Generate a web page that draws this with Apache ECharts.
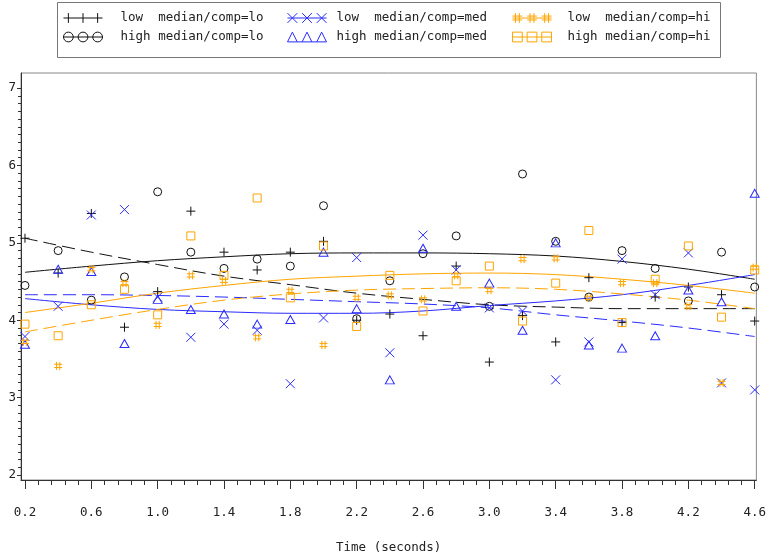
<!DOCTYPE html>
<html><head><meta charset="utf-8">
<script src="https://cdn.jsdelivr.net/npm/echarts@6/dist/echarts.min.js"></script>
<style>html,body{margin:0;padding:0;background:#fff}#c{width:769px;height:559px}</style>
</head><body><div id="c"></div>
<script>
// ---- data ----
const times = [0.2,0.4,0.6,0.8,1.0,1.2,1.4,1.6,1.8,2.0,2.2,2.4,2.6,2.8,3.0,3.2,3.4,3.6,3.8,4.0,4.2,4.4,4.6];
const lowLo   = [5.06,4.61,5.38,3.91,4.37,5.41,4.88,4.65,4.88,5.02,4.00,4.08,3.80,4.70,3.46,4.06,3.72,4.55,3.97,4.30,4.43,4.33,3.99];
const highLo  = [4.45,4.90,4.26,4.56,5.66,4.88,4.67,4.79,4.70,5.48,4.02,4.51,4.86,5.09,4.18,5.89,5.02,4.30,4.90,4.67,4.25,4.88,4.43];
const lowMed  = [3.79,4.18,5.36,5.43,4.30,3.78,3.95,3.87,3.18,4.03,4.81,3.58,5.10,4.65,4.16,4.12,3.23,3.72,4.79,4.33,4.87,3.19,3.10];
const highMed = [3.69,4.66,4.63,3.70,4.27,4.14,4.08,3.95,4.01,4.88,4.15,3.23,4.93,4.18,4.48,3.87,5.00,3.68,3.64,3.80,4.39,4.24,5.64];
const lowHi   = [3.72,3.41,4.66,4.48,3.94,4.58,4.51,3.78,4.38,3.68,4.29,4.32,4.27,4.58,4.39,4.79,4.80,4.29,4.48,4.48,4.18,3.19,4.68];
const highHi  = [3.95,3.80,4.20,4.40,4.07,5.09,4.58,5.58,4.29,4.96,3.92,4.58,4.12,4.51,4.70,3.99,4.48,5.16,3.97,4.53,4.96,4.04,4.65];

// fitted curves
const fitTimes   = [0.2,0.6,1.0,1.4,1.8,2.2,2.6,3.0,3.4,3.8,4.2,4.6];
const fitLowLo   = [5.06,4.88,4.72,4.57,4.46,4.35,4.27,4.20,4.17,4.15,4.15,4.15];
const fitHighLo  = [4.62,4.70,4.77,4.82,4.86,4.87,4.87,4.86,4.83,4.76,4.66,4.53];
const fitLowMed  = [4.33,4.33,4.32,4.30,4.27,4.24,4.21,4.16,4.07,3.99,3.90,3.79];
const fitHighMed = [4.28,4.20,4.14,4.11,4.09,4.09,4.12,4.19,4.25,4.33,4.45,4.59];
const fitLowHi   = [3.85,4.00,4.14,4.26,4.34,4.39,4.41,4.42,4.40,4.34,4.26,4.15];
const fitHighHi  = [4.10,4.22,4.35,4.45,4.53,4.57,4.60,4.61,4.59,4.53,4.45,4.35];

const xTicks = [0.2,0.6,1.0,1.4,1.8,2.2,2.6,3.0,3.4,3.8,4.2,4.6];
const yTicks = [2,3,4,5,6,7];
const names = ['low  median/comp=lo','high median/comp=lo','low  median/comp=med','high median/comp=med','low  median/comp=hi','high median/comp=hi'];
const xTitle = 'Time (seconds)';

// ---- styling ----
const BLACK = '#111', BLUE = '#2a2aff', ORANGE = '#ffa500';
const FONT = 'DejaVu Sans Mono';
const xMin = 0.176, xMax = 4.610, yMin = 1.936, yMax = 7.195;
const xMinor = [], yMinor = [];
for (let i = 0; i < xTicks.length - 1; i++) for (let k = 1; k < 5; k++) xMinor.push(+(xTicks[i] + (xTicks[i+1]-xTicks[i]) * k / 5).toFixed(3));
for (let i = 0; i < yTicks.length - 1; i++) for (let k = 1; k < 10; k++) yMinor.push(+(yTicks[i] + k / 10).toFixed(2));

const P_PLUS = 'path://M0,5L10,5M5,0L5,10';
const P_X = 'path://M0,0L10,10M0,10L10,0';
const P_HASH = 'path://M3,0L3,10M7,0L7,10M0,3L10,3M0,7L10,7';
const L_PLUS = 'path://M0,5L40,5M5,0L5,10M20,0L20,10M35,0L35,10';
const L_CIRC = 'path://M0,5L40,5M0,5A5,5,0,1,1,10,5A5,5,0,1,1,0,5M15,5A5,5,0,1,1,25,5A5,5,0,1,1,15,5M30,5A5,5,0,1,1,40,5A5,5,0,1,1,30,5';
const L_X = 'path://M0,5L40,5M0,0L10,10M0,10L10,0M15,0L25,10M15,10L25,0M30,0L40,10M30,10L40,0';
const L_TRI = 'path://M0,10L40,10M0,10L5,0L10,10M15,10L20,0L25,10M30,10L35,0L40,10';
const L_HASH = 'path://M0,5L40,5M3,0L3,10M7,0L7,10M0,3L10,3M0,7L10,7M18,0L18,10M22,0L22,10M15,3L25,3M15,7L25,7M33,0L33,10M37,0L37,10M30,3L40,3M30,7L40,7';
const L_SQ = 'path://M0,5L40,5M0,0L10,0L10,10L0,10ZM15,0L25,0L25,10L15,10ZM30,0L40,0L40,10L30,10Z';

const pts = (ys) => times.map((t, i) => [t, ys[i]]);
const fit = (ys) => fitTimes.map((t, i) => [t, ys[i]]);

function scatter(name, ys, color, symbol, size) {
  return { type: 'scatter', name, data: pts(ys), symbol, symbolSize: size,
    itemStyle: { color: 'rgba(0,0,0,0)', borderColor: color, borderWidth: 1, opacity: 1 },
    emphasis: { disabled: true }, silent: true, z: 3 };
}
function line(ys, color, dashed) {
  return { type: 'line', name: '_fit', data: fit(ys), smooth: 0.35, showSymbol: false, silent: true,
    lineStyle: { color, width: 1, type: dashed ? [13, 6] : 'solid' }, z: 2 };
}
function legItem(name, icon, color) {
  return { name, icon, itemStyle: { color: 'rgba(0,0,0,0)', borderColor: color, borderWidth: 1 } };
}
function legend(left, gap, items) {
  return { orient: 'vertical', left, top: 11, padding: 0, itemWidth: 39, itemHeight: 10, itemGap: 5,
    selectedMode: false, data: items,
    formatter: n => '{g|}{t|' + n + '}',
    textStyle: { color: '#222', fontFamily: FONT, fontSize: 12.5, lineHeight: 14,
      rich: { g: { width: gap }, t: { color: '#222', fontFamily: FONT, fontSize: 12.5, lineHeight: 14 } } } };
}

const chart = echarts.init(document.getElementById('c'), null, { renderer: 'canvas' });
chart.setOption({
  animation: false,
  backgroundColor: '#fff',
  grid: { left: 21, right: 9, top: 73, bottom: 78, show: true, borderColor: '#888', borderWidth: 1, backgroundColor: 'transparent' },
  graphic: [{ type: 'rect', shape: { x: 57.5, y: 2.5, width: 663, height: 55 }, style: { fill: 'none', stroke: '#777', lineWidth: 1 }, silent: true }],
  legend: [
    legend(63, 13, [legItem(names[0], L_PLUS, BLACK), legItem(names[1], L_CIRC, BLACK)]),
    legend(287, 5, [legItem(names[2], L_X, BLUE), legItem(names[3], L_TRI, BLUE)]),
    legend(512, 11, [legItem(names[4], L_HASH, ORANGE), legItem(names[5], L_SQ, ORANGE)])
  ],
  xAxis: [
    { type: 'value', position: 'bottom', min: xMin, max: xMax, name: xTitle, nameLocation: 'middle', nameGap: 61,
      nameTextStyle: { color: '#222', fontFamily: FONT, fontSize: 12.5 },
      axisLine: { show: true, lineStyle: { color: '#333', width: 1 } },
      axisTick: { show: true, customValues: xTicks, length: 9, inside: false, lineStyle: { color: '#333' } },
      axisLabel: { show: true, customValues: xTicks, margin: 26, color: '#222', fontFamily: FONT, fontSize: 12.5, formatter: v => (+v).toFixed(1) },
      splitLine: { show: false } },
    { type: 'value', position: 'bottom', min: xMin, max: xMax,
      axisLine: { show: false },
      axisTick: { show: true, customValues: xMinor, length: 5, lineStyle: { color: '#333' } },
      axisLabel: { show: false }, splitLine: { show: false } }
  ],
  yAxis: [
    { type: 'value', position: 'left', min: yMin, max: yMax,
      axisLine: { show: true, lineStyle: { color: '#333', width: 1 } },
      axisTick: { show: true, customValues: yTicks, length: 4, lineStyle: { color: '#333' } },
      axisLabel: { show: true, customValues: yTicks, margin: 5, color: '#222', fontFamily: FONT, fontSize: 12.5 },
      splitLine: { show: false } },
    { type: 'value', position: 'left', min: yMin, max: yMax,
      axisLine: { show: false },
      axisTick: { show: true, customValues: yMinor, length: 3, lineStyle: { color: '#333' } },
      axisLabel: { show: false }, splitLine: { show: false } }
  ],
  series: [
    line(fitLowLo, BLACK, true), line(fitHighLo, BLACK, false),
    line(fitLowMed, BLUE, true), line(fitHighMed, BLUE, false),
    line(fitLowHi, ORANGE, true), line(fitHighHi, ORANGE, false),
    scatter(names[0], lowLo, BLACK, P_PLUS, 9),
    scatter(names[1], highLo, BLACK, 'circle', 8),
    scatter(names[2], lowMed, BLUE, P_X, 9),
    scatter(names[3], highMed, BLUE, 'triangle', [9, 8]),
    scatter(names[4], lowHi, ORANGE, P_HASH, 8),
    scatter(names[5], highHi, ORANGE, 'rect', 8)
  ]
});
</script></body></html>
